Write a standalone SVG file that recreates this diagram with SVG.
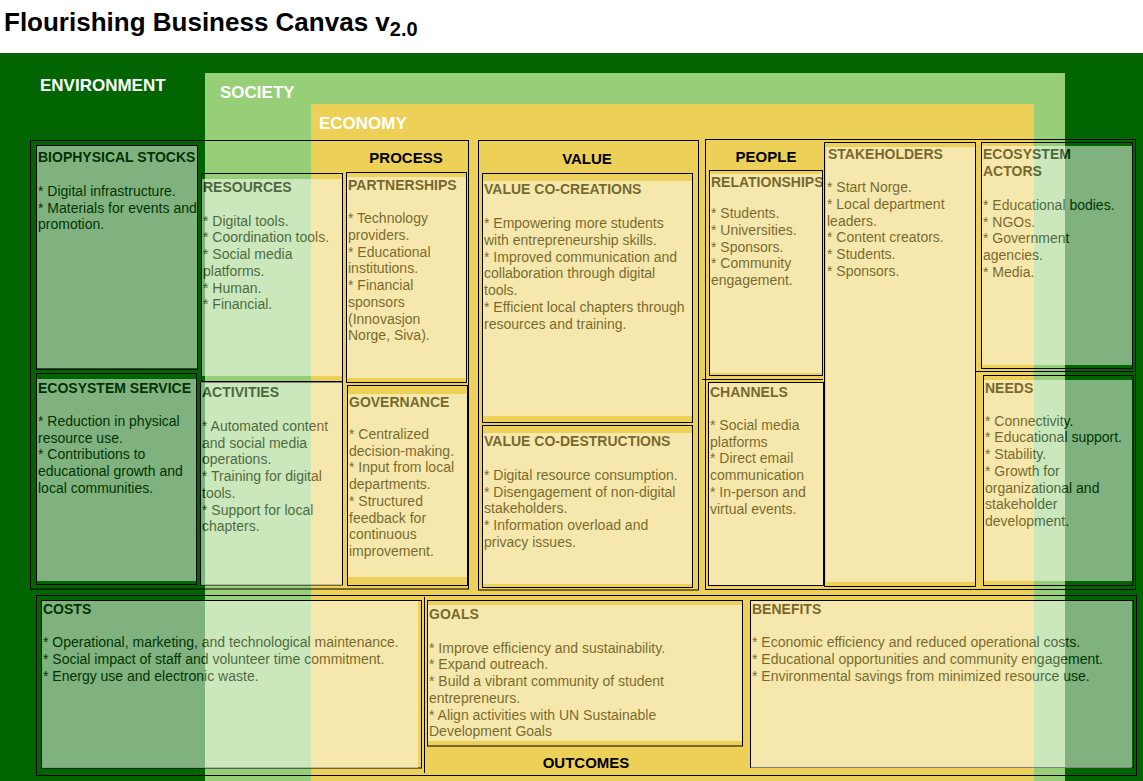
<svg xmlns="http://www.w3.org/2000/svg" width="1143" height="781" viewBox="0 0 1143 781">
  <style>
    .title { font: bold 26px "Liberation Sans", Arial, sans-serif; fill: #000; }
    .sub { font: bold 20px "Liberation Sans", Arial, sans-serif; fill: #000; }
    .layer { font: bold 17px "Liberation Sans", Arial, sans-serif; fill: #fff; }
    .section { font: bold 15px "Liberation Sans", Arial, sans-serif; fill: #000; text-anchor: middle; }
    .frame { fill: none; stroke: #000; stroke-width: 1; }
    .sheet { opacity: 0.5; }
    .sheet rect { fill: #fff; }
    .h { font: bold 14px "Liberation Sans", Arial, sans-serif; fill: #000; }
    .b { font: 14px "Liberation Sans", Arial, sans-serif; fill: #000; }
  </style>

  <rect width="1143" height="781" fill="#fff"/>
  <text class="title" x="4" y="31">Flourishing Business Canvas v<tspan class="sub" dy="5">2.0</tspan></text>

  <!-- nested layers: environment / society / economy -->
  <g id="layers">
    <rect x="0" y="53" width="1143" height="728" fill="#006400"/>
    <rect x="205" y="73" width="860" height="708" fill="#97cf79"/>
    <rect x="311" y="104" width="723" height="677" fill="#edd058"/>
    <text class="layer" x="40" y="91">ENVIRONMENT</text>
    <text class="layer" x="220" y="98">SOCIETY</text>
    <text class="layer" x="319" y="129">ECONOMY</text>
  </g>

  <!-- section frames and dividers -->
  <g id="connectors">
    <rect class="frame" x="30.5" y="140.5" width="438" height="448.5"/>
    <rect class="frame" x="478.5" y="140.5" width="220" height="449.5"/>
    <rect class="frame" x="705.5" y="139.5" width="430" height="450"/>
    <line class="frame" x1="976" y1="371.5" x2="1134" y2="371.5"/>
    <line class="frame" x1="702" y1="379.5" x2="823" y2="379.5"/>
    <rect class="frame" x="36.5" y="595.5" width="1100" height="180"/>
    <line class="frame" x1="424.5" y1="597" x2="424.5" y2="773"/>
  </g>

  <g id="labels">
    <text class="section" x="406" y="163">PROCESS</text>
    <text class="section" x="587" y="164">VALUE</text>
    <text class="section" x="766" y="162">PEOPLE</text>
    <text class="section" x="586" y="768">OUTCOMES</text>
  </g>

  <g id="biophysical-stocks">
    <rect class="frame" x="36.5" y="145.5" width="161" height="224"/>
    <g class="sheet">
      <rect x="37" y="146" width="160" height="222"/>
      <text class="h" x="38" y="162">BIOPHYSICAL STOCKS</text>
      <text class="b" x="38" y="196"><tspan x="38">* Digital infrastructure.</tspan><tspan x="38" dy="16.7">* Materials for events and</tspan><tspan x="38" dy="16.7">promotion.</tspan></text>
    </g>
  </g>

  <g id="ecosystem-service">
    <rect class="frame" x="36.5" y="373.5" width="160" height="211"/>
    <g class="sheet">
      <rect x="37" y="379" width="159" height="202"/>
      <text class="h" x="38" y="393.3">ECOSYSTEM SERVICE</text>
      <text class="b" x="38" y="426"><tspan x="38">* Reduction in physical</tspan><tspan x="38" dy="16.7">resource use.</tspan><tspan x="38" dy="16.7">* Contributions to</tspan><tspan x="38" dy="16.7">educational growth and</tspan><tspan x="38" dy="16.7">local communities.</tspan></text>
    </g>
  </g>

  <g id="resources">
    <rect class="frame" x="201.5" y="173.5" width="141" height="208"/>
    <g class="sheet">
      <rect x="202" y="179" width="140" height="197"/>
      <text class="h" x="203" y="192.3">RESOURCES</text>
      <text class="b" x="203" y="225.7"><tspan x="203">* Digital tools.</tspan><tspan x="203" dy="16.7">* Coordination tools.</tspan><tspan x="203" dy="16.7">* Social media</tspan><tspan x="203" dy="16.7">platforms.</tspan><tspan x="203" dy="16.7">* Human.</tspan><tspan x="203" dy="16.7">* Financial.</tspan></text>
    </g>
  </g>

  <g id="activities">
    <rect class="frame" x="200.5" y="382.5" width="142" height="202.5"/>
    <g class="sheet">
      <rect x="201" y="382" width="141" height="203"/>
      <text class="h" x="202" y="397.3">ACTIVITIES</text>
      <text class="b" x="202" y="431"><tspan x="202">* Automated content</tspan><tspan x="202" dy="16.7">and social media</tspan><tspan x="202" dy="16.7">operations.</tspan><tspan x="202" dy="16.7">* Training for digital</tspan><tspan x="202" dy="16.7">tools.</tspan><tspan x="202" dy="16.7">* Support for local</tspan><tspan x="202" dy="16.7">chapters.</tspan></text>
    </g>
  </g>

  <g id="partnerships">
    <rect class="frame" x="346.5" y="172.5" width="120" height="210"/>
    <g class="sheet">
      <rect x="347" y="177" width="119" height="201"/>
      <text class="h" x="348" y="190">PARTNERSHIPS</text>
      <text class="b" x="348" y="223.3"><tspan x="348">* Technology</tspan><tspan x="348" dy="16.7">providers.</tspan><tspan x="348" dy="16.7">* Educational</tspan><tspan x="348" dy="16.7">institutions.</tspan><tspan x="348" dy="16.7">* Financial</tspan><tspan x="348" dy="16.7">sponsors</tspan><tspan x="348" dy="16.7">(Innovasjon</tspan><tspan x="348" dy="16.7">Norge, Siva).</tspan></text>
    </g>
  </g>

  <g id="governance">
    <rect class="frame" x="347.5" y="385.5" width="120" height="200"/>
    <g class="sheet">
      <rect x="348" y="394" width="119" height="183"/>
      <text class="h" x="349" y="406.7">GOVERNANCE</text>
      <text class="b" x="349" y="439"><tspan x="349">* Centralized</tspan><tspan x="349" dy="16.7">decision-making.</tspan><tspan x="349" dy="16.7">* Input from local</tspan><tspan x="349" dy="16.7">departments.</tspan><tspan x="349" dy="16.7">* Structured</tspan><tspan x="349" dy="16.7">feedback for</tspan><tspan x="349" dy="16.7">continuous</tspan><tspan x="349" dy="16.7">improvement.</tspan></text>
    </g>
  </g>

  <g id="value-co-creations">
    <rect class="frame" x="482.5" y="173.5" width="210" height="249"/>
    <g class="sheet">
      <rect x="483" y="181" width="209" height="235"/>
      <text class="h" x="484" y="194">VALUE CO-CREATIONS</text>
      <text class="b" x="484" y="228.3"><tspan x="484">* Empowering more students</tspan><tspan x="484" dy="16.7">with entrepreneurship skills.</tspan><tspan x="484" dy="16.7">* Improved communication and</tspan><tspan x="484" dy="16.7">collaboration through digital</tspan><tspan x="484" dy="16.7">tools.</tspan><tspan x="484" dy="16.7">* Efficient local chapters through</tspan><tspan x="484" dy="16.7">resources and training.</tspan></text>
    </g>
  </g>

  <g id="value-co-destructions">
    <rect class="frame" x="482.5" y="425.5" width="210" height="162"/>
    <g class="sheet">
      <rect x="483" y="433" width="209" height="151"/>
      <text class="h" x="484" y="446">VALUE CO-DESTRUCTIONS</text>
      <text class="b" x="484" y="480"><tspan x="484">* Digital resource consumption.</tspan><tspan x="484" dy="16.7">* Disengagement of non-digital</tspan><tspan x="484" dy="16.7">stakeholders.</tspan><tspan x="484" dy="16.7">* Information overload and</tspan><tspan x="484" dy="16.7">privacy issues.</tspan></text>
    </g>
  </g>

  <g id="relationships">
    <rect class="frame" x="709.5" y="170.5" width="113" height="205"/>
    <g class="sheet">
      <rect x="710" y="174" width="112" height="199"/>
      <text class="h" x="711" y="186.7">RELATIONSHIPS</text>
      <text class="b" x="711" y="218.3"><tspan x="711">* Students.</tspan><tspan x="711" dy="16.7">* Universities.</tspan><tspan x="711" dy="16.7">* Sponsors.</tspan><tspan x="711" dy="16.7">* Community</tspan><tspan x="711" dy="16.7">engagement.</tspan></text>
    </g>
  </g>

  <g id="channels">
    <rect class="frame" x="708.5" y="382.5" width="115" height="203"/>
    <g class="sheet">
      <rect x="709" y="383" width="114" height="202"/>
      <text class="h" x="710" y="396.7">CHANNELS</text>
      <text class="b" x="710" y="430"><tspan x="710">* Social media</tspan><tspan x="710" dy="16.7">platforms</tspan><tspan x="710" dy="16.7">* Direct email</tspan><tspan x="710" dy="16.7">communication</tspan><tspan x="710" dy="16.7">* In-person and</tspan><tspan x="710" dy="16.7">virtual events.</tspan></text>
    </g>
  </g>

  <g id="stakeholders">
    <rect class="frame" x="824.5" y="142.5" width="151" height="444"/>
    <g class="sheet">
      <rect x="826" y="147" width="149" height="435"/>
      <text class="h" x="828" y="159.3">STAKEHOLDERS</text>
      <text class="b" x="827" y="192.3"><tspan x="827">* Start Norge.</tspan><tspan x="827" dy="16.7">* Local department</tspan><tspan x="827" dy="16.7">leaders.</tspan><tspan x="827" dy="16.7">* Content creators.</tspan><tspan x="827" dy="16.7">* Students.</tspan><tspan x="827" dy="16.7">* Sponsors.</tspan></text>
    </g>
  </g>

  <g id="ecosystem-actors">
    <rect class="frame" x="981.5" y="142.5" width="151" height="226"/>
    <g class="sheet">
      <rect x="982" y="146" width="150" height="219"/>
      <text class="h" x="983" y="159"><tspan x="983">ECOSYSTEM</tspan><tspan x="983" dy="16.7">ACTORS</tspan></text>
      <text class="b" x="983" y="210"><tspan x="983">* Educational bodies.</tspan><tspan x="983" dy="16.7">* NGOs.</tspan><tspan x="983" dy="16.7">* Government</tspan><tspan x="983" dy="16.7">agencies.</tspan><tspan x="983" dy="16.7">* Media.</tspan></text>
    </g>
  </g>

  <g id="needs">
    <rect class="frame" x="983.5" y="375.5" width="149.5" height="210"/>
    <g class="sheet">
      <rect x="984" y="380" width="148" height="201"/>
      <text class="h" x="985" y="392.7">NEEDS</text>
      <text class="b" x="985" y="425.7"><tspan x="985">* Connectivity.</tspan><tspan x="985" dy="16.7">* Educational support.</tspan><tspan x="985" dy="16.7">* Stability.</tspan><tspan x="985" dy="16.7">* Growth for</tspan><tspan x="985" dy="16.7">organizational and</tspan><tspan x="985" dy="16.7">stakeholder</tspan><tspan x="985" dy="16.7">development.</tspan></text>
    </g>
  </g>

  <g id="costs">
    <rect class="frame" x="41.5" y="600.5" width="380" height="167.5"/>
    <g class="sheet">
      <rect x="42" y="601" width="376" height="167"/>
      <text class="h" x="43" y="614">COSTS</text>
      <text class="b" x="43" y="647.3"><tspan x="43">* Operational, marketing, and technological maintenance.</tspan><tspan x="43" dy="16.7">* Social impact of staff and volunteer time commitment.</tspan><tspan x="43" dy="16.7">* Energy use and electronic waste.</tspan></text>
    </g>
  </g>

  <g id="goals">
    <rect class="frame" x="427.5" y="600.5" width="315" height="145.5"/>
    <g class="sheet">
      <rect x="428" y="605" width="314" height="136"/>
      <text class="h" x="429" y="619">GOALS</text>
      <text class="b" x="429" y="652.7"><tspan x="429">* Improve efficiency and sustainability.</tspan><tspan x="429" dy="16.7">* Expand outreach.</tspan><tspan x="429" dy="16.7">* Build a vibrant community of student</tspan><tspan x="429" dy="16.7">entrepreneurs.</tspan><tspan x="429" dy="16.7">* Align activities with UN Sustainable</tspan><tspan x="429" dy="16.7">Development Goals</tspan></text>
    </g>
  </g>

  <g id="benefits">
    <rect class="frame" x="750.5" y="600.5" width="383" height="167"/>
    <g class="sheet">
      <rect x="751" y="601" width="381" height="167"/>
      <text class="h" x="752" y="614">BENEFITS</text>
      <text class="b" x="752" y="647.3"><tspan x="752">* Economic efficiency and reduced operational costs.</tspan><tspan x="752" dy="16.7">* Educational opportunities and community engagement.</tspan><tspan x="752" dy="16.7">* Environmental savings from minimized resource use.</tspan></text>
    </g>
  </g>
</svg>
